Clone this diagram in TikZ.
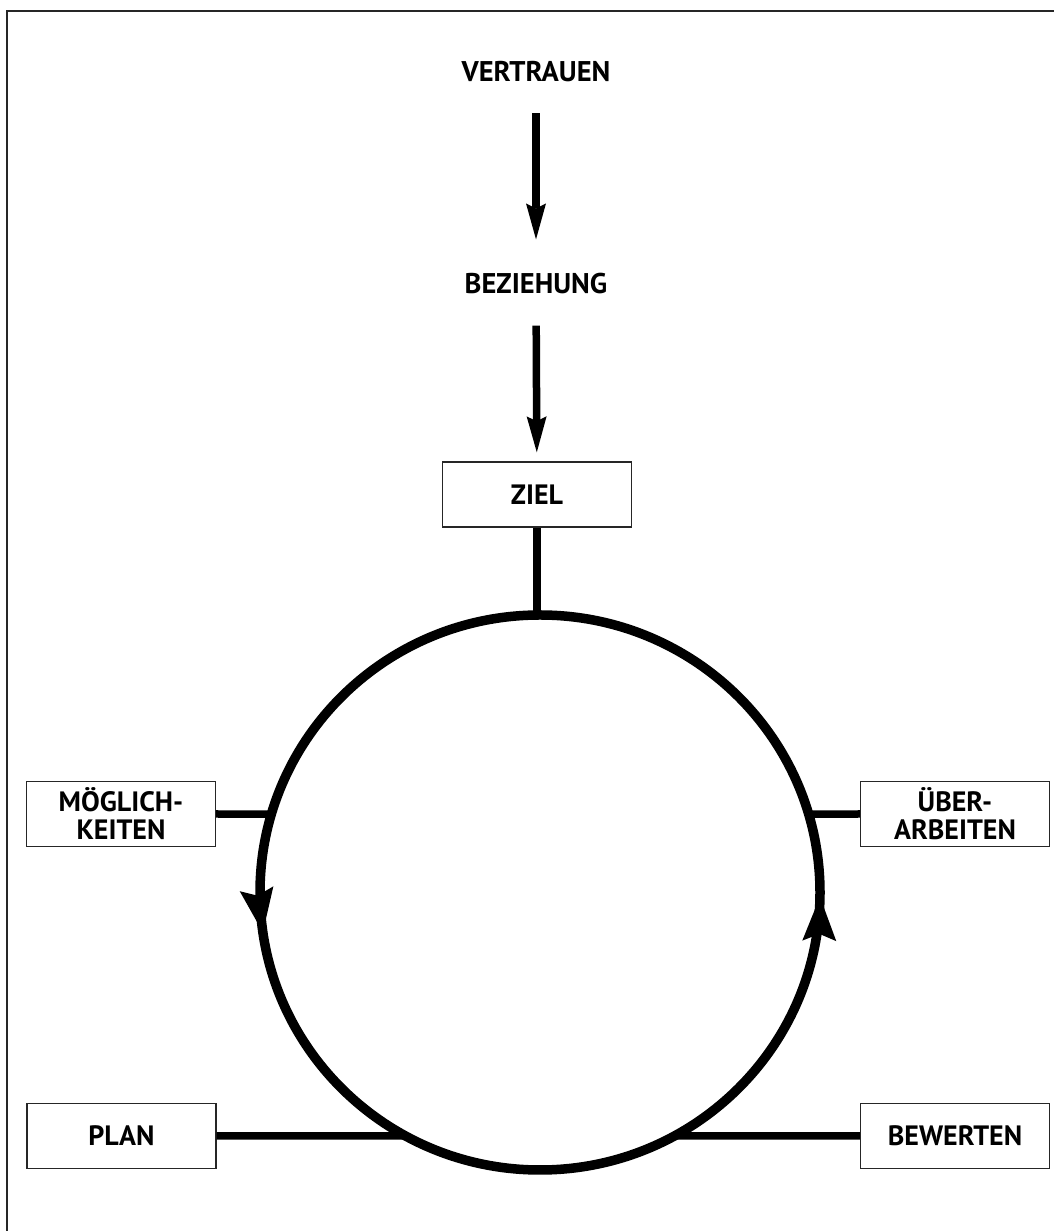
\documentclass[tikz,border=0pt]{standalone}
\usepackage{fontspec}
\setmainfont{PT Sans}
\usetikzlibrary{arrows.meta,decorations.markings}
\tikzset{ringtip/.tip={Stealth[length=44pt, width=34pt, inset=7pt, line width=0pt]}}
\begin{document}
\begin{tikzpicture}[x=1pt,y=1pt,
  lbl/.style={font=\bfseries\fontsize{28.5}{28}\selectfont, inner sep=0pt},
  box/.style={draw=black!85, line width=1.4pt, minimum width=189pt,
    minimum height=65pt, align=center, inner sep=0pt,
    font=\bfseries\fontsize{28}{28}\selectfont},
  flow/.style={line width=7.5pt,
    -{Stealth[length=36pt, width=20pt, inset=5pt, line width=0pt]}},
  ring/.style={line width=9.5pt, postaction={decorate},
    decoration={markings,
      mark=at position 0.2728 with {\arrow{ringtip}},
      mark=at position 0.7475 with {\arrow{ringtip}}}},
  link/.style={line width=7.5pt}]
\useasboundingbox (0,0) rectangle (1053,1231);

% outer frame (left and top edges)
\draw[line width=2pt, black!85] (7,-5) -- (7,1220) -- (1060,1220);

% top chain
\node[lbl] (vert) at (536,1159) {VERTRAUEN};
\node[lbl] (bez) at (536,947) {BEZIEHUNG};
\node[box] (ziel) at (537,736.5) {ZIEL};
\draw[flow, shorten <=31pt, shorten >=34pt] (vert) -- (bez);
\draw[flow, shorten <=31pt, shorten >=9pt] (bez) -- (ziel);

% cycle
\coordinate (c) at (540,338.5);
\path (c) ++(90:280 and 277.5) coordinate (pTop);
\path (c) ++(163.6:280 and 277.5) coordinate (pM);
\path (c) ++(16.4:280 and 277.5) coordinate (pU);
\path (c) ++(241.3:280 and 277.5) coordinate (pP);
\path (c) ++(298.7:280 and 277.5) coordinate (pB);

\draw[ring] (pTop) arc[start angle=90, end angle=450, x radius=280, y radius=277.5];

% boxes around the cycle
\node[box] (moeg) at (121,417) {MÖGLICH-\\KEITEN};
\node[box] (ueber) at (955,417) {ÜBER-\\ARBEITEN};
\node[box] (plan) at (121.5,95) {PLAN};
\node[box] (bew) at (955,95) {BEWERTEN};

% connectors
\draw[link] (ziel.south) -- (ziel.south |- pTop);
\draw[link] (moeg.east) -- (pM);
\draw[link] (ueber.west) -- (pU);
\draw[link] (plan.east) -- (pP);
\draw[link] (bew.west) -- (pB);
\end{tikzpicture}
\end{document}
